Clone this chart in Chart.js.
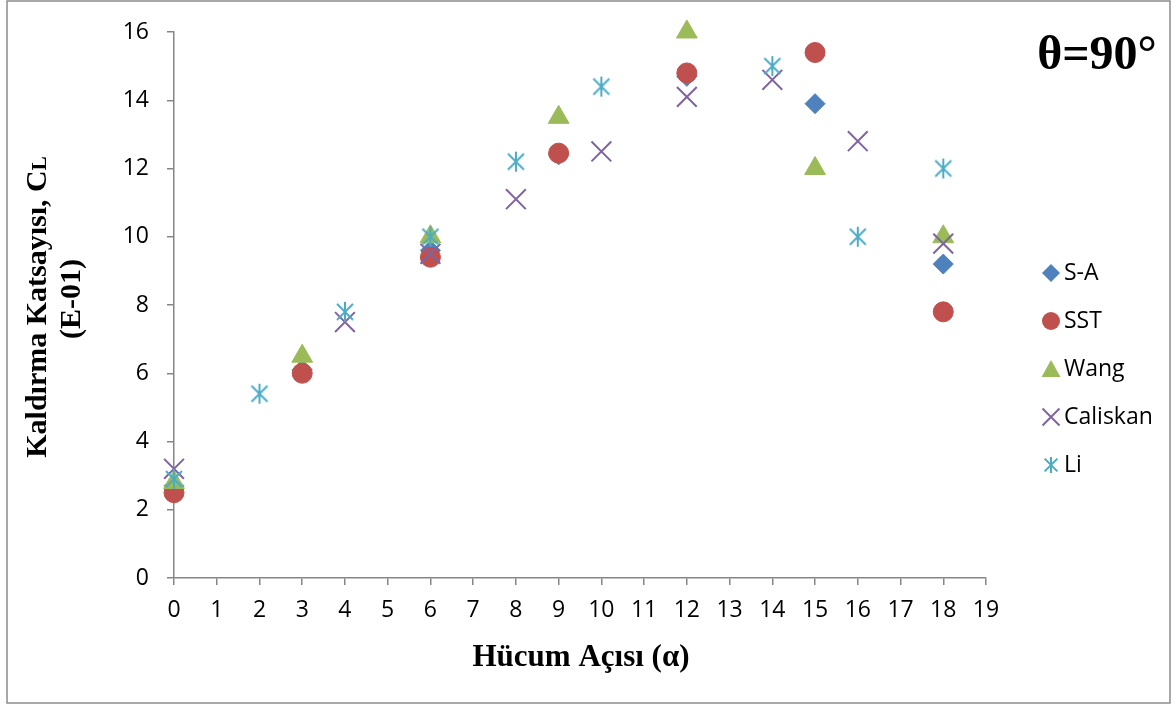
<!DOCTYPE html>
<html>
<head>
<meta charset="utf-8">
<script src="https://cdn.jsdelivr.net/npm/chart.js@4.4.0/dist/chart.umd.min.js"></script>
<style>
  html, body { margin: 0; padding: 0; background: #fff; }
  #wrap { position: relative; width: 1175px; height: 706px; }
</style>
</head>
<body>
<div id="wrap"><canvas id="cl" width="1175" height="706"></canvas></div>
<script>
// Hücum açısı (α) vs Kaldırma katsayısı (E-01), θ = 90°
const saX = [0, 3, 6, 9, 12, 15, 18];
const saY = [2.7, 6.1, 9.6, 12.4, 14.7, 13.9, 9.2];

const sstX = [0, 3, 6, 9, 12, 15, 18];
const sstY = [2.5, 6.0, 9.4, 12.45, 14.8, 15.4, 7.8];

const wangX = [0, 3, 6, 9, 12, 15, 18];
const wangY = [2.8, 6.5, 10.0, 13.5, 16.0, 12.0, 10.0];

const caliskanX = [0, 4, 6, 8, 10, 12, 14, 16, 18];
const caliskanY = [3.2, 7.5, 9.5, 11.1, 12.5, 14.1, 14.6, 12.8, 9.8];

const liX = [0, 2, 4, 6, 8, 10, 14, 16, 18];
const liY = [2.9, 5.4, 7.8, 10.0, 12.2, 14.4, 15.0, 10.0, 12.0];

const seriesNames = ['S-A', 'SST', 'Wang', 'Caliskan', 'Li'];
const colors = ['#4F81BD', '#C0504D', '#9BBB59', '#8064A2', '#4BACC6'];

const xTickMax = 19;
const yTickMax = 16;

const pts = (xs, ys) => xs.map((x, i) => ({ x: x, y: ys[i] }));

// excel-style asterisk marker (vertical + X)
function asterisk(size, color) {
  const c = document.createElement('canvas');
  c.width = size; c.height = size;
  const g = c.getContext('2d');
  g.strokeStyle = color;
  g.lineWidth = 2;
  const m = size / 2, r = size / 2 - 1;
  g.beginPath();
  g.moveTo(m, m - r); g.lineTo(m, m + r);
  g.moveTo(m - r * 0.8, m - r * 0.8); g.lineTo(m + r * 0.8, m + r * 0.8);
  g.moveTo(m - r * 0.8, m + r * 0.8); g.lineTo(m + r * 0.8, m - r * 0.8);
  g.stroke();
  return c;
}
const liMarker = asterisk(22, colors[4]);
const liMarkerSmall = asterisk(18, colors[4]);

const styles = ['rectRot', 'circle', 'triangle', 'crossRot', liMarker];
const radii = [10, 10, 12, 14, 11];

const datasets = [
  pts(saX, saY), pts(sstX, sstY), pts(wangX, wangY), pts(caliskanX, caliskanY), pts(liX, liY)
].map((d, i) => ({
  label: seriesNames[i],
  data: d,
  pointStyle: styles[i],
  pointRadius: radii[i],
  pointHoverRadius: radii[i],
  pointBackgroundColor: colors[i],
  pointBorderColor: colors[i],
  pointBorderWidth: i === 3 ? 2 : 1,
  showLine: false,
  clip: false,
  order: 5 - i
}));

function marker(ctx, i, x, y) {
  const col = colors[i];
  ctx.save();
  ctx.fillStyle = col; ctx.strokeStyle = col; ctx.lineWidth = 2;
  ctx.beginPath();
  if (i === 0) {
    const r = 9;
    ctx.moveTo(x - r, y); ctx.lineTo(x, y - r); ctx.lineTo(x + r, y); ctx.lineTo(x, y + r); ctx.closePath(); ctx.fill();
  } else if (i === 1) {
    ctx.arc(x, y, 9, 0, Math.PI * 2); ctx.fill();
  } else if (i === 2) {
    ctx.moveTo(x, y - 9); ctx.lineTo(x + 9.5, y + 8); ctx.lineTo(x - 9.5, y + 8); ctx.closePath(); ctx.fill();
  } else if (i === 3) {
    const r = 8.5;
    ctx.moveTo(x - r, y - r); ctx.lineTo(x + r, y + r); ctx.moveTo(x - r, y + r); ctx.lineTo(x + r, y - r); ctx.stroke();
  } else {
    ctx.drawImage(liMarkerSmall, x - 9, y - 9);
  }
  ctx.restore();
}

const decor = {
  id: 'decor',
  beforeDraw(chart) {
    const ctx = chart.ctx;
    ctx.save();
    ctx.fillStyle = '#fff';
    ctx.fillRect(0, 0, chart.width, chart.height);
    ctx.strokeStyle = '#8c8c8c';
    ctx.lineWidth = 1.5;
    ctx.strokeRect(7, 1, 1163, 702);
    ctx.restore();
  },
  afterDraw(chart) {
    const ctx = chart.ctx;
    ctx.save();
    ctx.fillStyle = '#000';

    // y title, two lines, rotated
    ctx.save();
    ctx.translate(38, 307);
    ctx.rotate(-Math.PI / 2);
    ctx.textBaseline = 'middle';
    const big = 'bold 30px "Liberation Serif", "Times New Roman", serif';
    const small = 'bold 21px "Liberation Serif", "Times New Roman", serif';
    ctx.font = big;
    const t1 = 'Kaldırma Katsayısı, C';
    const w1 = ctx.measureText(t1).width;
    ctx.font = small;
    const wl = ctx.measureText('L').width;
    const start = -(w1 + wl) / 2;
    ctx.font = big;
    ctx.textAlign = 'left';
    ctx.fillText(t1, start, 0);
    ctx.font = small;
    ctx.fillText('L', start + w1, 3);
    ctx.font = big;
    ctx.textAlign = 'center';
    ctx.fillText('(E-01)', 8, 34);
    ctx.restore();

    // x title
    ctx.font = 'bold 31px "Liberation Serif", "Times New Roman", serif';
    ctx.textAlign = 'center';
    ctx.textBaseline = 'middle';
    ctx.fillText('Hücum Açısı (α)', 581, 658);

    // angle label
    ctx.font = 'bold 48px "Liberation Serif", "Times New Roman", serif';
    ctx.fillText('θ=90°', 1097, 57);

    // legend
    ctx.font = '23px "Open Sans", Lato, sans-serif';
    ctx.textAlign = 'left';
    seriesNames.forEach((n, i) => {
      const y = 273 + i * 48;
      marker(ctx, i, 1051, y);
      ctx.fillStyle = '#000';
      ctx.fillText(n, 1064, y);
    });
    ctx.restore();
  }
};

const tickFont = { family: '"Open Sans", Lato, sans-serif', size: 23 };

new Chart(document.getElementById('cl'), {
  type: 'scatter',
  data: { datasets: datasets },
  options: {
    responsive: false,
    animation: false,
    events: [],
    layout: { padding: { top: 32, right: 189, left: 0, bottom: 0 } },
    plugins: { legend: { display: false }, tooltip: { enabled: false } },
    scales: {
      x: {
        type: 'linear', min: 0, max: xTickMax,
        ticks: { stepSize: 1, color: '#000', padding: 12, font: tickFont },
        grid: { drawOnChartArea: false, drawTicks: true, tickLength: 7, color: '#868686', lineWidth: 1.5 },
        border: { color: '#868686', width: 1.5 },
        afterFit(s) { s.height = 128; }
      },
      y: {
        type: 'linear', min: 0, max: yTickMax,
        ticks: { stepSize: 2, color: '#000', padding: 18, font: tickFont },
        grid: { drawOnChartArea: false, drawTicks: true, tickLength: 7, color: '#868686', lineWidth: 1.5 },
        border: { color: '#868686', width: 1.5 },
        afterFit(s) { s.width = 174; }
      }
    }
  },
  plugins: [decor]
});
</script>
</body>
</html>
